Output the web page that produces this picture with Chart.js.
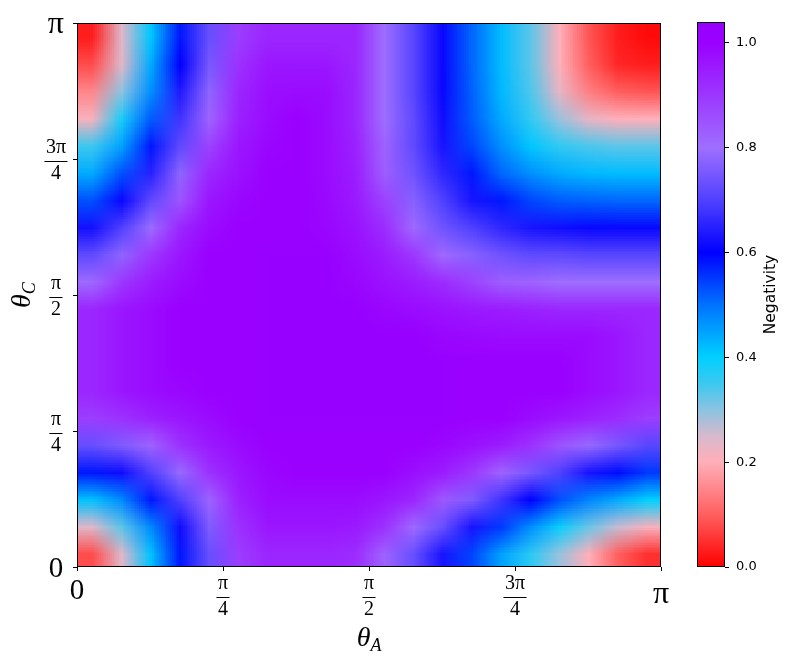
<!DOCTYPE html>
<html><head><meta charset="utf-8">
<script src="https://cdn.jsdelivr.net/npm/chart.js@4.4.1/dist/chart.umd.min.js"></script>
<style>
html,body{margin:0;padding:0;background:#fff;}
#wrap{position:relative;width:793px;height:659px;overflow:hidden;}
#main{position:absolute;left:0;top:0;}
#cbar{position:absolute;left:690px;top:0;}
</style></head><body>
<div id="wrap">
<canvas id="main" width="793" height="659"></canvas>
<canvas id="cbar" width="103" height="659"></canvas>
</div>
<script>
// ---- data (angles in units of pi) ----
const thetaAOverPi = [0.025,0.075,0.125,0.175,0.225,0.275,0.325,0.375,0.425,0.475,0.525,0.575,0.625,0.675,0.725,0.775,0.825,0.875,0.925,0.975];
const thetaCOverPi = [0.975,0.925,0.875,0.825,0.775,0.725,0.675,0.625,0.575,0.525,0.475,0.425,0.375,0.325,0.275,0.225,0.175,0.125,0.075,0.025];
// negativity[row][col]; rows follow thetaCOverPi (top to bottom), cols follow thetaAOverPi
const negativity = [
[.03,.24,.41,.58,.73,.89,.93,.93,.93,.93,.80,.71,.61,.51,.42,.33,.20,.09,.03,.01],
[.08,.24,.44,.60,.75,.91,.96,.96,.96,.93,.80,.71,.61,.51,.42,.33,.20,.10,.04,.03],
[.15,.30,.47,.64,.78,.93,.975,.98,.98,.93,.80,.71,.61,.515,.425,.34,.23,.14,.10,.09],
[.21,.38,.52,.68,.82,.94,.98,1.0,.98,.93,.80,.72,.62,.52,.44,.36,.29,.23,.20,.20],
[.35,.45,.58,.72,.88,.96,.99,1.0,.98,.94,.82,.72,.63,.54,.47,.41,.36,.34,.33,.33],
[.44,.53,.65,.78,.93,.97,1.0,1.0,.98,.95,.83,.74,.66,.58,.51,.47,.44,.425,.42,.42],
[.53,.61,.72,.85,.96,.99,1.0,1.0,.985,.955,.88,.77,.70,.63,.58,.54,.52,.515,.51,.51],
[.625,.70,.795,.93,.98,1.0,1.0,1.0,.99,.97,.92,.81,.74,.70,.66,.63,.62,.61,.61,.61],
[.72,.78,.90,.96,1.0,1.0,1.02,1.02,1.02,.98,.95,.90,.81,.77,.74,.72,.72,.71,.71,.71],
[.81,.90,.95,.98,1.0,1.0,1.02,1.03,1.03,.99,.97,.95,.92,.88,.83,.82,.80,.80,.80,.80],
[.93,.96,.98,1.0,1.0,1.0,1.02,1.03,1.03,1.03,.99,.98,.97,.955,.95,.94,.93,.93,.93,.93],
[.93,.96,.98,1.0,1.0,1.0,1.02,1.03,1.03,1.03,1.03,1.03,.99,.985,.98,.98,.98,.98,.96,.93],
[.93,.96,.98,1.0,1.0,1.0,1.02,1.03,1.03,1.03,1.03,1.03,1.02,1.0,1.0,1.0,1.0,.98,.96,.93],
[.93,.96,.98,.99,1.0,1.0,1.02,1.03,1.03,1.03,1.03,1.03,1.02,1.0,1.0,1.0,1.0,.98,.96,.93],
[.89,.91,.94,.96,.98,1.0,1.02,1.02,1.02,1.02,1.02,1.02,1.02,1.0,1.0,.98,.96,.94,.92,.89],
[.73,.76,.82,.91,.955,.98,1.0,1.0,1.0,1.0,1.0,1.0,.99,.97,.95,.91,.85,.79,.75,.71],
[.58,.62,.70,.79,.91,.96,.99,1.0,1.0,1.0,1.0,.975,.95,.90,.82,.75,.70,.63,.59,.55],
[.415,.475,.58,.70,.82,.94,.98,.98,.98,.98,.96,.93,.84,.76,.68,.60,.53,.48,.44,.40],
[.24,.33,.475,.62,.76,.91,.96,.96,.96,.955,.91,.81,.73,.63,.55,.47,.39,.32,.26,.21],
[.08,.24,.415,.58,.73,.89,.93,.93,.93,.92,.82,.73,.63,.54,.45,.365,.29,.20,.10,.05]
];
const tickValuesOverPi = [0, 0.25, 0.5, 0.75, 1];
const tickLabels = ['0', ['π','4'], ['π','2'], ['3π','4'], 'π'];
const cbarTicks = [0.0, 0.2, 0.4, 0.6, 0.8, 1.0];
const cbarMax = 1.04;

// ---- colormap (style) ----
const cmapStops  = [0, .1, .2, .25, .3, .35, .4, .5, .6, .7, .8, .9, 1.0, 1.04];
const cmapColors = [[255,0,0],[255,95,95],[255,175,185],[215,185,205],[140,195,225],[60,200,240],[0,208,255],[0,115,255],[0,0,255],[80,65,255],[158,110,255],[156,55,255],[154,0,255],[150,0,255]];
function colorFor(v){
  if (v <= cmapStops[0]) return 'rgb(' + cmapColors[0].join(',') + ')';
  for (let i = 1; i < cmapStops.length; i++){
    if (v <= cmapStops[i]){
      const t = (v - cmapStops[i-1]) / (cmapStops[i] - cmapStops[i-1]);
      const a = cmapColors[i-1], b = cmapColors[i];
      return 'rgb(' + [0,1,2].map(k => Math.round(a[k] + (b[k]-a[k])*t)).join(',') + ')';
    }
  }
  return 'rgb(' + cmapColors[cmapColors.length-1].join(',') + ')';
}

// ---- style constants ----
const SERIF = '"Liberation Serif", "DejaVu Serif", serif';
const SANS = '"DejaVu Sans", sans-serif';
const TICK_LEN = 4;
const FRAC_SIZE = 20, FRAC_LH = 1.3;
const Y_PAD = 7, X_PAD = 0;

function tickFontX(c){
  const lab = tickLabels[c.index];
  if (Array.isArray(lab)) return {family: SERIF, size: FRAC_SIZE, lineHeight: FRAC_LH};
  return lab === '0' ? {family: SERIF, size: 29, lineHeight: 1.4} : {family: SERIF, size: 32, lineHeight: 1.5};
}
function tickFontY(c){
  const lab = tickLabels[c.index];
  if (Array.isArray(lab)) return {family: SERIF, size: FRAC_SIZE, lineHeight: FRAC_LH};
  return lab === '0' ? {family: SERIF, size: 29, lineHeight: 1.0} : {family: SERIF, size: 32, lineHeight: 1.0};
}

// ---- build heatmap cells from the arrays ----
const cellW = (thetaAOverPi[1] - thetaAOverPi[0]) * Math.PI;
const cellH = (thetaCOverPi[0] - thetaCOverPi[1]) * Math.PI;
const cells = [];
negativity.forEach((row, r) => row.forEach((v, c) => {
  cells.push({x: thetaAOverPi[c]*Math.PI, y: thetaCOverPi[r]*Math.PI, v: v, row: r, col: c, w: cellW, h: cellH});
}));

// cells are painted one texel each, then drawn into the scale-derived extent with smooth shading
const heatmapPlugin = {
  id: 'heatmap',
  beforeDatasetsDraw(chart){
    const xs = chart.scales.x, ys = chart.scales.y, ctx = chart.ctx;
    const pts = chart.data.datasets[0].data;
    const nx = thetaAOverPi.length, ny = thetaCOverPi.length;
    const off = document.createElement('canvas');
    off.width = nx; off.height = ny;
    const octx = off.getContext('2d');
    pts.forEach(p => { octx.fillStyle = colorFor(p.v); octx.fillRect(p.col, p.row, 1, 1); });
    const first = pts[0], last = pts[pts.length - 1];
    const x0 = xs.getPixelForValue(first.x - first.w/2);
    const x1 = xs.getPixelForValue(last.x + last.w/2);
    const y0 = ys.getPixelForValue(first.y + first.h/2);
    const y1 = ys.getPixelForValue(last.y - last.h/2);
    ctx.save();
    ctx.imageSmoothingEnabled = true;
    ctx.imageSmoothingQuality = 'low';
    ctx.drawImage(off, x0, y0, x1 - x0, y1 - y0);
    ctx.restore();
  }
};

const framePlugin = {
  id: 'frame',
  afterDatasetsDraw(chart){
    const {left, top, right, bottom} = chart.chartArea;
    const ctx = chart.ctx;
    ctx.save();
    ctx.strokeStyle = '#000'; ctx.lineWidth = 1;
    ctx.strokeRect(left + 0.5, top + 0.5, right - left - 1, bottom - top - 1);
    ctx.restore();
  }
};

const decorPlugin = {
  id: 'decor',
  afterDraw(chart){
    const ctx = chart.ctx;
    ctx.save();
    ctx.strokeStyle = '#000'; ctx.lineWidth = 1;
    const xs = chart.scales.x, ys = chart.scales.y;
    let widest = 0;
    tickLabels.forEach((lab, i) => {
      const f = tickFontY({index: i});
      ctx.font = f.size + 'px ' + SERIF;
      (Array.isArray(lab) ? lab : [lab]).forEach(t => { widest = Math.max(widest, ctx.measureText(t).width); });
    });
    ctx.font = FRAC_SIZE + 'px ' + SERIF;
    const yCenterX = ys.right - TICK_LEN - Y_PAD - widest / 2;
    tickLabels.forEach((lab, i) => {
      if (!Array.isArray(lab)) return;
      const w = Math.max(...lab.map(t => ctx.measureText(t).width)) + 3;
      const px = xs.getPixelForValue(tickValuesOverPi[i] * Math.PI);
      const yb = Math.round(xs.top + TICK_LEN + X_PAD + FRAC_SIZE * FRAC_LH) + 0.5;
      ctx.beginPath(); ctx.moveTo(px - w/2, yb); ctx.lineTo(px + w/2, yb); ctx.stroke();
      const py = Math.round(ys.getPixelForValue(tickValuesOverPi[i] * Math.PI)) + 2.5;
      ctx.beginPath(); ctx.moveTo(yCenterX - w/2, py); ctx.lineTo(yCenterX + w/2, py); ctx.stroke();
    });
    ctx.fillStyle = '#000';
    ctx.textBaseline = 'alphabetic';
    const bigF = 'italic 28px ' + SERIF, subF = 'italic 18px ' + SERIF;
    ctx.font = bigF; const wt = ctx.measureText('θ').width;
    ctx.font = subF; const wa = ctx.measureText('A').width, wc = ctx.measureText('C').width;
    const cx = (chart.chartArea.left + chart.chartArea.right) / 2;
    const sx = cx - (wt + wa) / 2;
    ctx.font = bigF; ctx.fillText('θ', sx, 646);
    ctx.font = subF; ctx.fillText('A', sx + wt, 651);
    const cy = (chart.chartArea.top + chart.chartArea.bottom) / 2;
    ctx.translate(30, cy);
    ctx.rotate(-Math.PI / 2);
    const tot = wt + wc;
    ctx.font = bigF; ctx.fillText('θ', -tot/2, 0);
    ctx.font = subF; ctx.fillText('C', -tot/2 + wt, 5);
    ctx.restore();
  }
};

function makeTicks(scale){ scale.ticks = tickValuesOverPi.map(v => ({value: v * Math.PI})); }

new Chart(document.getElementById('main'), {
  type: 'scatter',
  data: { datasets: [{ label: 'Negativity', data: cells, pointRadius: 0, pointHoverRadius: 0, showLine: false }] },
  options: {
    responsive: false, animation: false, events: [],
    layout: { padding: { left: 0, top: 22, right: 132, bottom: 0 } },
    plugins: { legend: { display: false }, tooltip: { enabled: false } },
    scales: {
      x: {
        type: 'linear', min: 0, max: Math.PI,
        afterBuildTicks: makeTicks,
        afterFit: s => { s.height = 92; },
        ticks: { autoSkip: false, maxRotation: 0, minRotation: 0, padding: X_PAD, color: '#000',
                 callback: (v, i) => tickLabels[i], font: tickFontX },
        grid: { display: true, drawOnChartArea: false, drawTicks: true, tickLength: TICK_LEN, color: '#000', lineWidth: 1 },
        border: { display: false }
      },
      y: {
        type: 'linear', min: 0, max: Math.PI,
        afterBuildTicks: makeTicks,
        afterFit: s => { s.width = 77; },
        ticks: { autoSkip: false, padding: Y_PAD, color: '#000', crossAlign: 'center', labelOffset: 2,
                 callback: (v, i) => tickLabels[i], font: tickFontY },
        grid: { display: true, drawOnChartArea: false, drawTicks: true, tickLength: TICK_LEN, color: '#000', lineWidth: 1 },
        border: { display: false }
      }
    }
  },
  plugins: [heatmapPlugin, framePlugin, decorPlugin]
});

// ---- colorbar ----
const cbarFrame = {
  id: 'cbarFrame',
  afterDraw(chart){
    const {left, top, right, bottom} = chart.chartArea;
    const ctx = chart.ctx;
    ctx.save();
    ctx.strokeStyle = '#000'; ctx.lineWidth = 1;
    ctx.strokeRect(left + 0.5, top + 0.5, right - left - 1, bottom - top - 1);
    ctx.fillStyle = '#000';
    ctx.font = '15.5px ' + SANS;
    ctx.textAlign = 'center'; ctx.textBaseline = 'middle';
    ctx.translate(81, (top + bottom) / 2);
    ctx.rotate(-Math.PI / 2);
    ctx.fillText('Negativity', 0, 0);
    ctx.restore();
  }
};
new Chart(document.getElementById('cbar'), {
  type: 'bar',
  data: { labels: ['Negativity'], datasets: [{
    data: [[0, cbarMax]], borderWidth: 0, barPercentage: 1, categoryPercentage: 1,
    backgroundColor: (c) => {
      const chart = c.chart; const ca = chart.chartArea;
      if (!ca) return '#a000ff';
      const ys = chart.scales.y;
      const g = chart.ctx.createLinearGradient(0, ys.getPixelForValue(0), 0, ys.getPixelForValue(cbarMax));
      cmapStops.forEach((s, i) => g.addColorStop(Math.min(1, s / cbarMax), 'rgb(' + cmapColors[i].join(',') + ')'));
      return g;
    }
  }] },
  options: {
    responsive: false, animation: false, events: [],
    layout: { padding: { left: 7, top: 22, right: 0, bottom: 92 } },
    plugins: { legend: { display: false }, tooltip: { enabled: false } },
    scales: {
      x: { display: false },
      y: {
        position: 'right', min: 0, max: cbarMax,
        afterBuildTicks: s => { s.ticks = cbarTicks.map(v => ({value: v})); },
        afterFit: s => { s.width = 68; },
        ticks: { callback: v => v.toFixed(1), font: { family: SANS, size: 13 }, color: '#000', padding: 7 },
        grid: { display: true, drawOnChartArea: false, drawTicks: true, tickLength: 4, color: '#000' },
        border: { display: false }
      }
    }
  },
  plugins: [cbarFrame]
});
</script>
</body></html>
